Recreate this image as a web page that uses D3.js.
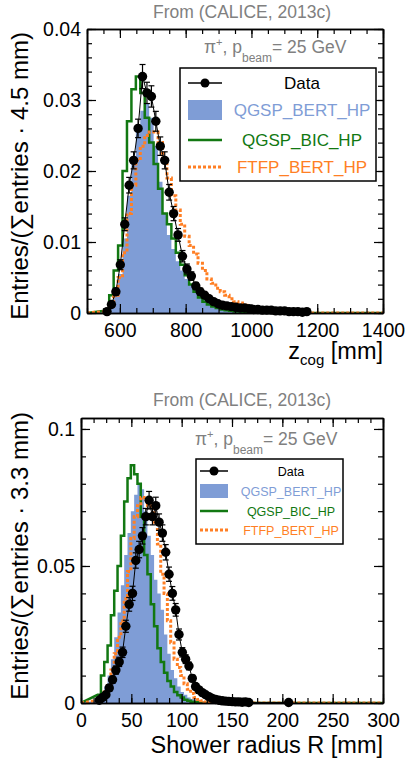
<!DOCTYPE html>
<html><head><meta charset="utf-8">
<script src="https://cdn.jsdelivr.net/npm/d3@7"></script>
<style>body{margin:0;background:#fff} svg{display:block} text{font-family:"Liberation Sans",Arial,Helvetica,sans-serif}</style>
</head><body><svg id="c" width="407" height="762"></svg>
<script>
// ---------- Panel 1: z_cog ----------
const zCenters = [560.8,574.3,587.8,601.3,614.8,628.3,641.8,655.3,668.8,682.3,695.8,709.3,722.8,736.3,749.8,763.3,776.8,790.3,803.8,817.3,830.8,844.3,857.8,871.3,884.8,898.3,911.8,925.3,938.8,952.3,965.8,979.3,992.8,1006.3,1019.8,1033.3,1046.8,1060.3,1073.8,1087.3,1100.8,1114.3,1127.8,1141.3,1154.8,1168.3,1181.8,1195.3];
const zData = [0.0002,0.0012,0.003,0.0068,0.0125,0.018,0.0215,0.026,0.0333,0.031,0.0305,0.027,0.0235,0.0215,0.017,0.014,0.011,0.008,0.0062,0.0052,0.0038,0.003,0.0025,0.002,0.0016,0.0013,0.0011,0.001,0.0009,0.0008,0.0007,0.0007,0.0006,0.0005,0.0005,0.0004,0.0004,0.0004,0.0003,0.0003,0.0003,0.0002,0.0002,0.0002,0.0001,0.0002,0,0];
const zErr = [0.0001,0.0003,0.0005,0.0007,0.0009,0.0011,0.0012,0.0013,0.0017,0.0015,0.0015,0.0014,0.0013,0.0012,0.0011,0.001,0.0009,0.0008,0.0007,0.0006,0.0005,0.0005,0.0004,0.0004,0.0003,0.0003,0.0003,0.0003,0.0002,0.0002,0.0002,0.0002,0.0002,0.0002,0.0002,0.0002,0.0002,0.0002,0.0001,0.0001,0.0001,0.0001,0.0001,0.0001,0.0001,0.0001,0,0];
const zBert = [0.0001,0.0008,0.0025,0.0055,0.0105,0.0165,0.022,0.026,0.0285,0.0295,0.0275,0.0235,0.0185,0.014,0.011,0.009,0.0073,0.006,0.0048,0.004,0.0033,0.0026,0.002,0.0015,0.0011,0.0008,0.0006,0.0005,0.0004,0.0003,0.0002,0.0002,0.0001,0.0001,0,0,0,0,0,0,0,0,0,0,0,0,0,0];
const zBic = [0.0003,0.0025,0.006,0.0095,0.02,0.027,0.0315,0.0333,0.031,0.0275,0.024,0.021,0.0175,0.014,0.0125,0.0105,0.0085,0.0068,0.0053,0.004,0.003,0.0022,0.0016,0.0012,0.0009,0.0007,0.0005,0.0004,0.0003,0.0002,0.0002,0.0001,0.0001,0,0,0,0,0,0,0,0,0,0,0,0,0,0,0];
const zFtfp = [0.0002,0.001,0.0025,0.005,0.0085,0.014,0.018,0.0215,0.0235,0.025,0.0255,0.0255,0.024,0.0215,0.019,0.0165,0.0145,0.0125,0.0108,0.0095,0.0083,0.007,0.006,0.0048,0.0042,0.0035,0.003,0.0025,0.002,0.0016,0.0014,0.0011,0.0009,0.0007,0.0005,0.0004,0.0003,0.0003,0.0002,0.0001,0.0001,0.0001,0,0,0,0,0,0];
const zXTicks = [600,800,1000,1200,1400];
const zXTickLabels = ["600","800","1000","1200","1400"];
const zYTicks = [0,0.01,0.02,0.03,0.04];
const zYTickLabels = ["0","0.01","0.02","0.03","0.04"];

// ---------- Panel 2: shower radius ----------
const rCenters = [18.15,21.45,24.75,28.05,31.35,34.65,37.95,41.25,44.55,47.85,51.15,54.45,57.75,61.05,64.35,67.65,70.95,74.25,77.55,80.85,84.15,87.45,90.75,94.05,97.35,100.65,103.95,107.25,110.55,113.85,117.15,120.45,123.75,127.05,130.35,133.65,136.95,140.25,143.55,146.85,150.15,153.45,156.75,160.05,163.35,166.65,169.95,173.25,176.55,179.85,183.15,186.45,189.75,193.05,196.35,199.65,202.95,206.25];
const rData = [0.001,0.002,0.003,0.0055,0.0085,0.012,0.015,0.0185,0.028,0.036,0.040,0.052,0.056,0.061,0.068,0.074,0.068,0.072,0.066,0.062,0.055,0.047,0.040,0.034,0.025,0.0185,0.016,0.0135,0.009,0.006,0.0048,0.0038,0.003,0.0023,0.0017,0.0013,0.001,0.0008,0.0007,0.0006,0.0005,0.0004,0.0004,0.0003,0.0004,0.0002,0,0,0,0,0,0,0,0,0,0,0,0.0002];
const rErr = [0.0005,0.0007,0.0009,0.0011,0.0013,0.0015,0.0017,0.0019,0.0022,0.0025,0.0026,0.0028,0.003,0.003,0.003,0.0032,0.003,0.0031,0.003,0.003,0.0028,0.0026,0.0025,0.0023,0.002,0.0017,0.0016,0.0014,0.0012,0.001,0.0009,0.0008,0.0007,0.0006,0.0005,0.0005,0.0004,0.0004,0.0003,0.0003,0.0003,0.0003,0.0003,0.0002,0.0002,0.0002,0,0,0,0,0,0,0,0,0,0,0,0.0002];
const rBert = [0.001,0.003,0.006,0.010,0.016,0.024,0.033,0.043,0.054,0.062,0.070,0.076,0.080,0.078,0.070,0.061,0.054,0.045,0.040,0.034,0.025,0.018,0.012,0.009,0.006,0.004,0.003,0.002,0.0015,0.001,0.0007,0.0004,0.0002,0.0001];
const rBic = [0.003,0.010,0.015,0.021,0.032,0.041,0.050,0.061,0.0735,0.082,0.0868,0.0835,0.080,0.068,0.054,0.047,0.036,0.028,0.020,0.015,0.011,0.008,0.006,0.004,0.0028,0.002,0.0012,0.0008,0.0005,0.0003,0.0002,0.0001];
const rFtfp = [0.001,0.002,0.004,0.007,0.012,0.018,0.024,0.030,0.038,0.048,0.060,0.068,0.072,0.075,0.074,0.072,0.071,0.066,0.058,0.047,0.040,0.030,0.022,0.016,0.013,0.010,0.007,0.005,0.0035,0.002,0.0013,0.0008,0.0004,0.0002];
const rXTicks = [0,50,100,150,200,250,300];
const rXTickLabels = ["0","50","100","150","200","250","300"];
const rYTicks = [0,0.05,0.1];
const rYTickLabels = ["0","0.05","0.1"];

const legendNames = ["Data","QGSP_BERT_HP","QGSP_BIC_HP","FTFP_BERT_HP"];
const titleText = "From (CALICE, 2013c)";

const COL = {blue:"#7f9dd6", blueText:"#7f9dd6", green:"#127812", orange:"#ff7f24", gray:"#808080"};
const svg = d3.select("#c");

function panel(p){
  const g = svg.append("g");
  const x = d3.scaleLinear().domain(p.xDomain).range([p.L, p.R]);
  const y = d3.scaleLinear().domain(p.yDomain).range([p.B, p.T]);
  const clipId = p.id + "clip";
  svg.append("clipPath").attr("id", clipId).append("rect")
    .attr("x", p.L).attr("y", p.T).attr("width", p.R - p.L).attr("height", p.B - p.T);
  const plot = g.append("g").attr("clip-path", `url(#${clipId})`);
  const w = p.centers[1] - p.centers[0];
  function stepPts(vals){
    const pts = [[p.xDomain[0], 0]];
    p.centers.forEach((c, i) => { const v = vals[i] || 0; pts.push([c - w/2, v], [c + w/2, v]); });
    pts.push([p.xDomain[1], 0]);
    return pts;
  }
  plot.append("path").datum(stepPts(p.bert))
    .attr("d", d3.area().x(d => x(d[0])).y0(y(0)).y1(d => y(d[1])))
    .attr("fill", COL.blue);
  const line = d3.line().x(d => x(d[0])).y(d => y(d[1]));
  plot.append("path").datum(stepPts(p.bic)).attr("d", line)
    .attr("fill", "none").attr("stroke", COL.green).attr("stroke-width", 2.5);
  plot.append("path").datum(stepPts(p.ftfp)).attr("d", line)
    .attr("fill", "none").attr("stroke", COL.orange).attr("stroke-width", 3).attr("stroke-dasharray", "3,2");

  // axes (ticks inside on all four sides)
  const tl = 9, ts = 5;
  const axB = d3.axisBottom(x).tickValues(p.xTicks).tickFormat((d, i) => p.xTickLabels[i]).tickSize(-tl).tickSizeOuter(0).tickPadding(10);
  const axBm = d3.axisBottom(x).tickValues(p.xMinor).tickFormat("").tickSize(-ts).tickSizeOuter(0);
  const axT = d3.axisTop(x).tickValues(p.xTicks).tickFormat("").tickSize(-tl).tickSizeOuter(0);
  const axTm = d3.axisTop(x).tickValues(p.xMinor).tickFormat("").tickSize(-ts).tickSizeOuter(0);
  const axL = d3.axisLeft(y).tickValues(p.yTicks).tickFormat((d, i) => p.yTickLabels[i]).tickSize(-tl).tickSizeOuter(0).tickPadding(6);
  const axLm = d3.axisLeft(y).tickValues(p.yMinor).tickFormat("").tickSize(-ts).tickSizeOuter(0);
  const axR = d3.axisRight(y).tickValues(p.yTicks).tickFormat("").tickSize(-tl).tickSizeOuter(0);
  const axRm = d3.axisRight(y).tickValues(p.yMinor).tickFormat("").tickSize(-ts).tickSizeOuter(0);
  const axes = [[axB, 0, p.B], [axBm, 0, p.B], [axT, 0, p.T], [axTm, 0, p.T], [axL, p.L, 0], [axLm, p.L, 0], [axR, p.R, 0], [axRm, p.R, 0]];
  axes.forEach(([a, tx, ty]) => {
    const ag = g.append("g").attr("transform", `translate(${tx},${ty})`).call(a);
    ag.selectAll(".tick line").attr("stroke", "#000").attr("stroke-width", 1.2);
    ag.select(".domain").attr("stroke", "#000").attr("stroke-width", 1.6);
    ag.selectAll("text").attr("font-size", 19.5).attr("fill", "#000").style("font-family", '"Liberation Sans",Arial,sans-serif');
  });

  // data points
  const pts = p.centers.map((c, i) => ({c, v: p.data[i], e: p.err[i]})).filter(d => d.v > 0);
  g.append("path").datum(pts).attr("d", d3.line().x(d => x(d.c)).y(d => y(d.v)))
    .attr("fill", "none").attr("stroke", "#000").attr("stroke-width", 1);
  const eb = g.append("g").attr("stroke", "#000").attr("stroke-width", 1.2);
  pts.forEach(d => {
    eb.append("line").attr("x1", x(d.c)).attr("x2", x(d.c)).attr("y1", y(d.v - d.e)).attr("y2", y(d.v + d.e));
    eb.append("line").attr("x1", x(d.c) - 3).attr("x2", x(d.c) + 3).attr("y1", y(d.v + d.e)).attr("y2", y(d.v + d.e));
    eb.append("line").attr("x1", x(d.c) - 3).attr("x2", x(d.c) + 3).attr("y1", y(d.v - d.e)).attr("y2", y(d.v - d.e));
  });
  g.append("g").selectAll("circle").data(pts).join("circle")
    .attr("cx", d => x(d.c)).attr("cy", d => y(d.v)).attr("r", 4.7).attr("fill", "#000");

  // title
  svg.append("text").attr("x", 242).attr("y", p.titleY).attr("text-anchor", "middle")
    .attr("font-size", 17.5).attr("fill", COL.gray).text(titleText);
  // annotation
  const fs = 17.5;
  const ann = svg.append("text").attr("x", p.annX).attr("y", p.annY).attr("fill", COL.gray).attr("font-size", fs);
  ann.append("tspan").text("π");
  ann.append("tspan").text("+").attr("font-size", 11).attr("dy", -7);
  ann.append("tspan").text(", p").attr("font-size", fs).attr("dy", 7);
  ann.append("tspan").text("beam").attr("font-size", 12).attr("dy", 9);
  ann.append("tspan").text("= 25 GeV").attr("font-size", fs).attr("dy", -9);

  // axis titles
  const xl = svg.append("text").attr("x", p.R).attr("y", p.xLabY).attr("text-anchor", "end").attr("font-size", 23.5).attr("fill", "#000");
  p.xLabel.forEach(s => { const t = xl.append("tspan").text(s.t); if (s.fs) t.attr("font-size", s.fs); if (s.dy) t.attr("dy", s.dy); });
  svg.append("text").attr("transform", `translate(${p.yLabX},${p.yLabTop}) rotate(-90)`).attr("text-anchor", "end")
    .attr("font-size", 24).attr("fill", "#000").text(p.yLabel);

  // legend
  const lg = p.leg;
  svg.append("rect").attr("x", lg.x0).attr("y", lg.y0).attr("width", lg.x1 - lg.x0).attr("height", lg.y1 - lg.y0)
    .attr("fill", "#fff").attr("stroke", "#000").attr("stroke-width", 1.5);
  const cols = ["#000", COL.blueText, COL.green, COL.orange];
  lg.rows.forEach((ry, i) => {
    svg.append("text").attr("x", lg.textX).attr("y", ry).attr("dy", "0.36em").attr("text-anchor", "middle")
      .attr("font-size", lg.fs).attr("fill", cols[i]).text(legendNames[i]);
  });
  const sx0 = lg.sx0, sx1 = lg.sx1;
  svg.append("line").attr("x1", sx0).attr("x2", sx1).attr("y1", lg.rows[0]).attr("y2", lg.rows[0]).attr("stroke", "#000").attr("stroke-width", 1.5);
  svg.append("circle").attr("cx", (sx0 + sx1) / 2).attr("cy", lg.rows[0]).attr("r", 4.5).attr("fill", "#000");
  svg.append("rect").attr("x", sx0).attr("y", lg.rows[1] - lg.rh / 2).attr("width", sx1 - sx0).attr("height", lg.rh).attr("fill", COL.blue);
  svg.append("line").attr("x1", sx0).attr("x2", sx1).attr("y1", lg.rows[2]).attr("y2", lg.rows[2]).attr("stroke", COL.green).attr("stroke-width", 2.5);
  svg.append("line").attr("x1", sx0).attr("x2", sx1).attr("y1", lg.rows[3]).attr("y2", lg.rows[3]).attr("stroke", COL.orange).attr("stroke-width", 3).attr("stroke-dasharray", "3,2");
}

panel({
  id: "p1", L: 87, R: 383, T: 29, B: 313,
  xDomain: [500, 1400], yDomain: [0, 0.04],
  xTicks: zXTicks, xTickLabels: zXTickLabels, xMinor: d3.range(500, 1401, 50),
  yTicks: zYTicks, yTickLabels: zYTickLabels, yMinor: d3.range(0, 0.0401, 0.002),
  centers: zCenters, data: zData, err: zErr, bert: zBert, bic: zBic, ftfp: zFtfp,
  titleY: 18, annX: 204, annY: 53,
  xLabel: [{t: "z"}, {t: "cog", fs: 15, dy: 6}, {t: " [mm]", fs: 23.5, dy: -6}], xLabY: 359,
  yLabel: "Entries/(∑entries · 4.5 mm)", yLabX: 28, yLabTop: 32,
  leg: {x0: 180, y0: 68, x1: 376, y1: 181, rows: [83, 110, 140, 167], textX: 302, fs: 17, sx0: 188, sx1: 222, rh: 20}
});

panel({
  id: "p2", L: 81, R: 383, T: 418, B: 703,
  xDomain: [0, 300], yDomain: [0, 0.104],
  xTicks: rXTicks, xTickLabels: rXTickLabels, xMinor: d3.range(0, 301, 12.5),
  yTicks: rYTicks, yTickLabels: rYTickLabels, yMinor: d3.range(0, 0.1041, 0.01),
  centers: rCenters, data: rData, err: rErr, bert: rBert, bic: rBic, ftfp: rFtfp,
  titleY: 406, annX: 195, annY: 445,
  xLabel: [{t: "Shower radius R [mm]"}], xLabY: 753,
  yLabel: "Entries/(∑entries · 3.3 mm)", yLabX: 28, yLabTop: 412,
  leg: {x0: 196, y0: 459, x1: 343, y1: 544, rows: [471, 491, 511, 530], textX: 291, fs: 12.5, sx0: 200, sx1: 228, rh: 14}
});
</script></body></html>
